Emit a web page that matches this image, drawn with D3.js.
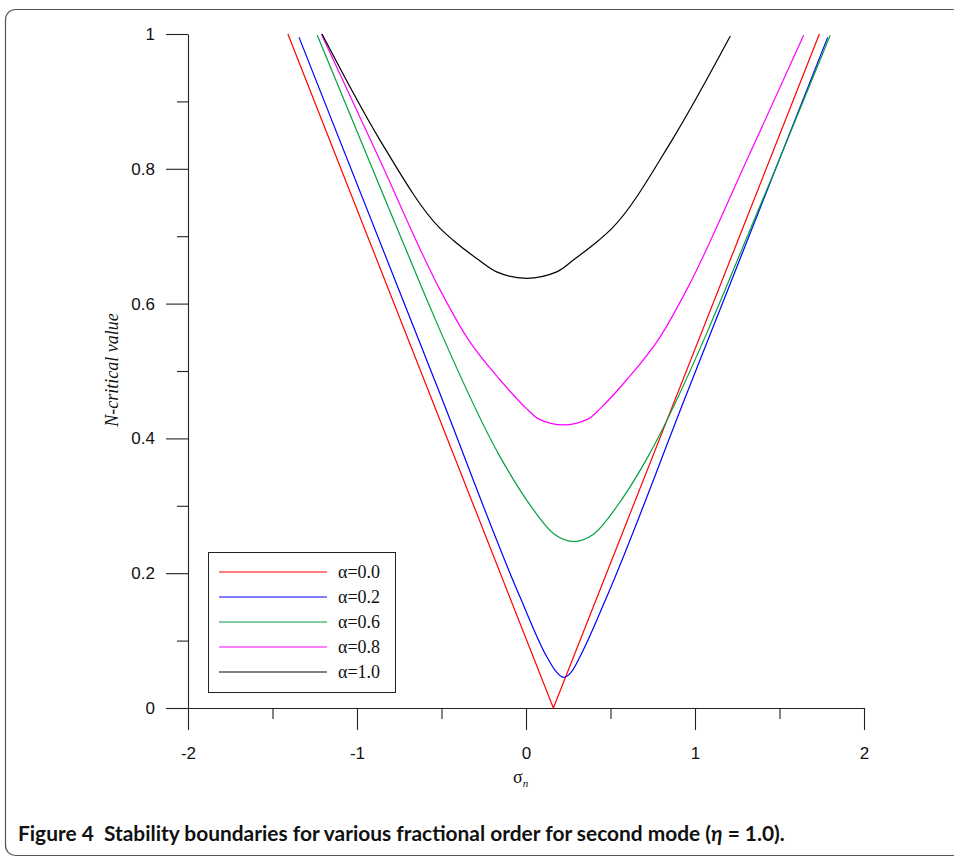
<!DOCTYPE html>
<html>
<head>
<meta charset="utf-8">
<script src="https://cdn.jsdelivr.net/npm/d3@7"></script>
<style>
  body { margin: 0; background: #fff; }
  svg { display: block; }
</style>
</head>
<body>
<div id="chart"></div>
<script>
// series: [sigma_n, N-critical]
var alphaLabels = ["α=0.0", "α=0.2", "α=0.6", "α=0.8", "α=1.0"];
var alphaColors = ["#ff0000", "#0000ff", "#00a040", "#ff00ff", "#000000"];

var alpha00 = [[-1.409, 1.0], [0.162, 0.0], [1.736, 1.0]];
var alpha02 = [[-1.343, 0.995], [-0.753, 0.621], [-0.51, 0.467], [-0.036, 0.165], [0.123, 0.076],
    [0.172, 0.056], [0.221, 0.0455], [0.27, 0.054], [0.319, 0.076], [0.478, 0.165],
    [0.952, 0.467], [1.195, 0.621], [1.785, 0.995]];
var alpha06 = [[-1.235, 0.998], [-0.9, 0.795], [-0.612, 0.621], [-0.51, 0.561], [-0.154, 0.373],
    [0.0, 0.31], [0.172, 0.257], [0.284, 0.247], [0.395, 0.257], [0.568, 0.31],
    [0.722, 0.373], [1.078, 0.561], [1.179, 0.621], [1.468, 0.795], [1.80, 0.998]];
var alpha08 = [[-1.211, 1.0], [-0.865, 0.813], [-0.514, 0.623], [-0.35, 0.55], [-0.154, 0.487],
    [0.0, 0.445], [0.073, 0.429], [0.221, 0.42], [0.369, 0.429], [0.442, 0.445],
    [0.596, 0.487], [0.792, 0.55], [0.956, 0.623], [1.307, 0.813], [1.643, 0.998]];
var alpha10 = [[-1.207, 1.0], [-0.865, 0.843], [-0.51, 0.712], [-0.431, 0.694], [-0.292, 0.667],
    [-0.174, 0.647], [0.004, 0.6375], [0.182, 0.647], [0.292, 0.667], [0.431, 0.694],
    [0.51, 0.712], [0.865, 0.843], [1.209, 0.997]];
var allSeries = [alpha00, alpha02, alpha06, alpha08, alpha10];

var xTicks = [-2, -1, 0, 1, 2];
var xMinor = [-1.5, -0.5, 0.5, 1.5];
var yTicks = [0, 0.2, 0.4, 0.6, 0.8, 1];
var yMinor = [0.1, 0.3, 0.5, 0.7, 0.9];

var svgWidth = 954;
var svgHeight = 861;

var svg = d3.select("#chart")
    .append("svg")
    .attr("width", svgWidth)
    .attr("height", svgHeight);

// page frame
svg.append("rect")
    .attr("x", 5.5)
    .attr("y", 9.5)
    .attr("width", 980)
    .attr("height", 846)
    .attr("rx", 10)
    .attr("fill", "none")
    .attr("stroke", "#555")
    .attr("stroke-width", 1.2);

var x = d3.scaleLinear().domain([-2, 2]).range([188, 864]);
var y = d3.scaleLinear().domain([0, 1]).range([708, 34]);

// minor ticks first so the major axis draws on top
svg.append("g")
    .attr("transform", "translate(0,708)")
    .call(d3.axisBottom(x).tickValues(xMinor).tickSize(11).tickSizeOuter(0).tickFormat(""))
    .call(g => g.select(".domain").remove());

svg.append("g")
    .attr("transform", "translate(188,0)")
    .call(d3.axisLeft(y).tickValues(yMinor).tickSize(11).tickSizeOuter(0).tickFormat(""))
    .call(g => g.select(".domain").remove());

var xAxis = svg.append("g")
    .attr("transform", "translate(0,708)")
    .call(d3.axisBottom(x).tickValues(xTicks).tickSize(22).tickSizeOuter(0).tickPadding(17).tickFormat(d => String(d)));

var yAxis = svg.append("g")
    .attr("transform", "translate(188,0)")
    .call(d3.axisLeft(y).tickValues(yTicks).tickSize(22).tickSizeOuter(0).tickPadding(11).tickFormat(d => String(d)));

svg.selectAll(".tick line, .domain").attr("stroke", "#222").attr("stroke-width", 1.1);
[xAxis, yAxis].forEach(function (g) {
    g.selectAll("text")
        .attr("font-family", "'Liberation Sans', Arial, sans-serif")
        .attr("font-size", "17px")
        .attr("fill", "#111");
});

// curves: alpha=0 is a straight V, the rest are smooth
var smoothLine = d3.line()
    .x(d => x(d[0]))
    .y(d => y(d[1]))
    .curve(d3.curveMonotoneX);
var straightLine = d3.line()
    .x(d => x(d[0]))
    .y(d => y(d[1]));

svg.append("g")
    .selectAll("path")
    .data(allSeries)
    .enter()
    .append("path")
    .attr("d", (d, i) => i === 0 ? straightLine(d) : smoothLine(d))
    .attr("fill", "none")
    .attr("stroke", (d, i) => alphaColors[i])
    .attr("stroke-width", 1.2)
    .attr("stroke-linejoin", "round");

// axis titles
svg.append("text")
    .attr("transform", "translate(118,370) rotate(-90)")
    .attr("text-anchor", "middle")
    .attr("font-family", "'Liberation Serif', 'Times New Roman', serif")
    .attr("font-style", "italic")
    .attr("font-size", "18px")
    .attr("fill", "#111")
    .text("N-critical value");

var xTitle = svg.append("text")
    .attr("x", 513)
    .attr("y", 783)
    .attr("font-family", "'Liberation Serif', 'Times New Roman', serif")
    .attr("font-size", "18px")
    .attr("fill", "#111");
xTitle.append("tspan").text("σ");
xTitle.append("tspan")
    .attr("dy", 4)
    .attr("font-size", "11px")
    .attr("font-style", "italic")
    .text("n");

// legend
var legend = svg.append("g").attr("transform", "translate(208,552)");
legend.append("rect")
    .attr("x", 0.5)
    .attr("y", 0.5)
    .attr("width", 187)
    .attr("height", 140)
    .attr("fill", "#fff")
    .attr("stroke", "#222")
    .attr("stroke-width", 1);

var rows = legend.selectAll(".row")
    .data(alphaLabels)
    .enter()
    .append("g")
    .attr("transform", (d, i) => `translate(0, ${20 + i * 25})`);

rows.append("line")
    .attr("x1", 11)
    .attr("x2", 119)
    .attr("stroke", (d, i) => alphaColors[i])
    .attr("stroke-width", 1.2);

rows.append("text")
    .attr("x", 130)
    .attr("y", 6)
    .attr("font-family", "'Liberation Serif', 'Times New Roman', serif")
    .attr("font-size", "18px")
    .attr("fill", "#111")
    .text(d => d);

// caption
var caption = svg.append("text")
    .attr("x", 18)
    .attr("y", 841)
    .attr("font-family", "Lato, 'Open Sans', sans-serif")
    .attr("font-weight", "bold")
    .attr("font-size", "17px")
    .attr("fill", "#111")
    .style("white-space", "pre");
caption.append("tspan").text("Figure 4  Stability boundaries for various fractional order for second mode (");
caption.append("tspan").attr("font-style", "italic").text("η");
caption.append("tspan").text(" = 1.0).");

var capWidth = caption.node().getComputedTextLength();
if (capWidth > 0) {
    caption.attr("font-size", (17 * 767 / capWidth).toFixed(2) + "px");
}
</script>
</body>
</html>
